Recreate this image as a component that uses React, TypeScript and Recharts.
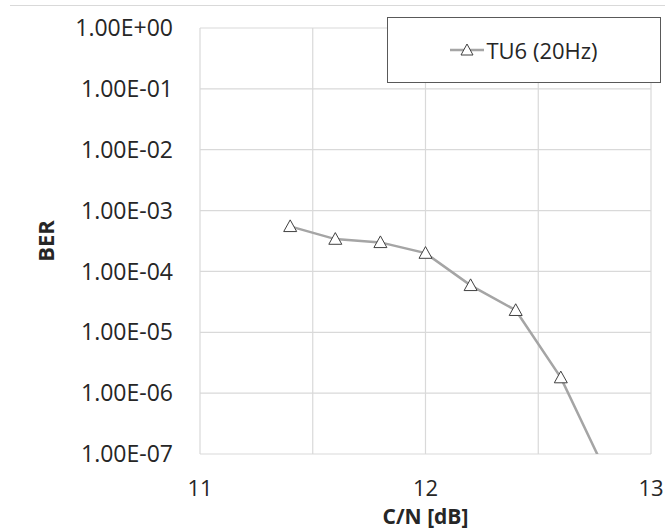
import React from "react"
import { LineChart, Line, XAxis, YAxis, CartesianGrid, Label } from "recharts"

const cn = [11.4, 11.6, 11.8, 12.0, 12.2, 12.4, 12.6, 12.8]
const ber = [5.5e-4, 3.4e-4, 3.0e-4, 2.0e-4, 5.9e-5, 2.3e-5, 1.8e-6, 5e-8]
const xTicks = [11, 11.5, 12, 12.5, 13]
const yTicks = [1e-7, 1e-6, 1e-5, 1e-4, 1e-3, 1e-2, 1e-1, 1]
const seriesName = "TU6 (20Hz)"

const data = cn.map((x, i) => ({ cn: x, ber: ber[i] }))

const font = "'Open Sans', 'Liberation Sans', sans-serif"

function fmtExp(v: number) {
  const e = Math.round(Math.log10(v))
  const m = v / Math.pow(10, e)
  const sign = e < 0 ? "-" : "+"
  return m.toFixed(2) + "E" + sign + String(Math.abs(e)).padStart(2, "0")
}

function Triangle(props: any) {
  const { cx, cy, index } = props
  if (cx == null || cy == null) return <g key={index} />
  const s = 6.5
  return (
    <path
      key={index}
      d={`M${cx},${cy - s} L${cx + s},${cy + s * 0.8} L${cx - s},${cy + s * 0.8} Z`}
      fill="#fff"
      stroke="#404040"
      strokeWidth={1}
    />
  )
}

function LegendBox() {
  return (
    <div
      style={{
        position: "absolute",
        left: 387,
        top: 17,
        boxSizing: "border-box",
        width: 274,
        height: 66,
        border: "1px solid #595959",
        background: "#fff",
        display: "flex",
        alignItems: "center",
        justifyContent: "center",
        fontFamily: font,
        fontSize: 22,
        color: "#262626",
      }}
    >
      <svg width={34} height={20} style={{ marginRight: 2 }}>
        <line x1={0} y1={10} x2={34} y2={10} stroke="#a5a5a5" strokeWidth={2.5} />
        <path d="M17,4 L23,15 L11,15 Z" fill="#fff" stroke="#404040" strokeWidth={1} />
      </svg>
      <span>{seriesName}</span>
    </div>
  )
}

export default function App() {
  return (
    <div style={{ position: "absolute", left: 0, top: 0, width: 665, height: 532, background: "#fff" }}>
      <div style={{ position: "absolute", left: 10, right: 0, top: 5, borderTop: "1px solid #d9d9d9" }} />
      <LineChart width={665} height={532} data={data} margin={{ top: 28, right: 14, bottom: 0, left: 0 }}>
        <CartesianGrid stroke="#d9d9d9" strokeWidth={1.2} />
        <XAxis
          dataKey="cn"
          type="number"
          domain={[11, 13]}
          ticks={xTicks}
          tickFormatter={(v: number) => (Number.isInteger(v) ? String(v) : "")}
          height={78}
          axisLine={false}
          tickLine={false}
          tickSize={0}
          tickMargin={26}
          tick={{ fill: "#262626", fontSize: 22, fontFamily: font }}
        >
          <Label value="C/N [dB]" position="center" dy={24} style={{ fontWeight: 700, fontSize: 21, fontFamily: font, fill: "#262626" }} />
        </XAxis>
        <YAxis
          dataKey="ber"
          scale="log"
          domain={[1e-7, 1]}
          ticks={yTicks}
          allowDataOverflow
          width={200}
          axisLine={false}
          tickLine={false}
          tickSize={0}
          tickMargin={27}
          tickFormatter={fmtExp}
          tick={{ fill: "#262626", fontSize: 23, fontFamily: font }}
        >
          <Label value="BER" angle={-90} position="center" dx={-54} style={{ fontWeight: 700, fontSize: 22, fontFamily: font, fill: "#262626" }} />
        </YAxis>
        <Line
          dataKey="ber"
          name={seriesName}
          stroke="#a5a5a5"
          strokeWidth={2.5}
          dot={(p: any) => <Triangle {...p} />}
          activeDot={false}
          isAnimationActive={false}
        />
      </LineChart>
      <LegendBox />
    </div>
  )
}
